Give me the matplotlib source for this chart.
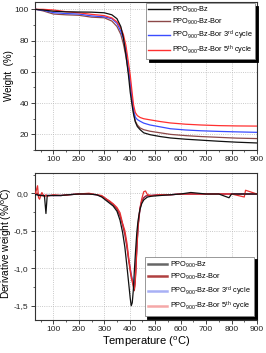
import matplotlib
matplotlib.use("Agg")
import matplotlib.pyplot as plt
from matplotlib.ticker import MultipleLocator

plt.rcParams['font.family'] = ['Liberation Sans', 'DejaVu Sans']
plt.rcParams['mathtext.fontset'] = 'custom'
plt.rcParams['mathtext.rm'] = 'Liberation Sans'
plt.rcParams['mathtext.it'] = 'Liberation Sans:italic'
plt.rcParams['mathtext.bf'] = 'Liberation Sans:bold'

# ---------------- data ----------------
series_labels = [r'PPO$_{900}$-Bz',
                 r'PPO$_{900}$-Bz-Bor',
                 r'PPO$_{900}$-Bz-Bor 3$^{\mathrm{rd}}$ cycle',
                 r'PPO$_{900}$-Bz-Bor 5$^{\mathrm{th}}$ cycle']

tga_temp = [30, 60, 100, 150, 200, 250, 300, 330, 350, 365, 375, 385, 395, 402,
            410, 415, 422, 430, 441, 455, 480, 520, 560, 620, 680, 750, 820, 900]
tga_bz = [100, 99.6, 98.8, 98.4, 98.3, 98.2, 97.8, 96.5, 94, 89, 82, 71, 58, 47,
          38, 33, 28, 25, 23, 21, 19.8, 18.6, 17.7, 16.9, 16.3, 15.6, 15.0, 14.5]
tga_bzbor = [100, 99.0, 97.0, 96.5, 96.2, 95.0, 94.6, 92.5, 89, 84, 78, 70, 60, 52,
             40, 34, 28.5, 26, 24.1, 23, 22, 21, 20, 19.2, 18.6, 18.1, 17.6, 17.3]
tga_c3 = [100, 99.4, 97.9, 97.3, 97.0, 95.8, 95.2, 94, 91, 86, 81.5, 74, 62, 54,
          42, 36, 31, 29.5, 28.4, 27.2, 26, 24.8, 23.6, 22.8, 22.3, 21.9, 21.6, 21.3]
tga_c5 = [100, 100, 99.6, 98.5, 97.8, 96.8, 96.0, 94.5, 92, 88, 84, 77, 66, 58,
          46, 39, 34, 32, 30.8, 30, 29.3, 28.2, 27.3, 26.5, 26, 25.6, 25.4, 25.3]

dtg_temp = [30, 38, 42, 46, 55, 65, 71, 76, 100, 130, 160, 200, 240, 270, 290, 305,
            320, 335, 350, 362, 372, 381, 389, 396, 402, 406, 410, 414, 418, 421,
            424, 428, 433, 440, 447, 455, 462, 470, 485, 520, 560, 600, 640, 700,
            750, 790, 800, 850, 855, 900]
dtg_bz = [-0.02, -0.02, -0.03, -0.03, -0.03, -0.03, -0.27, -0.03, -0.03, -0.03,
          -0.02, -0.01, -0.01, -0.02, -0.05, -0.09, -0.13, -0.17, -0.24, -0.36,
          -0.52, -0.72, -0.97, -1.20, -1.40, -1.50, -1.46, -1.30, -1.05, -0.88,
          -0.72, -0.52, -0.36, -0.22, -0.14, -0.09, -0.07, -0.05, -0.04, -0.03,
          -0.02, -0.01, 0.01, -0.01, -0.01, -0.06, -0.01, -0.01, -0.01, -0.01]
dtg_bzbor = [0.0, 0.0, -0.04, -0.02, -0.03, -0.04, -0.03, -0.03, -0.03, -0.03,
             -0.02, -0.01, -0.01, -0.02, -0.04, -0.07, -0.11, -0.15, -0.21, -0.30,
             -0.42, -0.55, -0.72, -0.90, -1.04, -1.12, -1.18, -1.24, -1.30, -1.22,
             -1.05, -0.75, -0.45, -0.22, -0.11, -0.06, -0.04, -0.03, -0.03, -0.02,
             -0.02, -0.01, -0.01, -0.01, -0.01, -0.01, -0.01, -0.01, -0.01, -0.01]
dtg_c3 = [-0.01, -0.02, -0.03, -0.02, -0.03, -0.03, -0.03, -0.03, -0.03, -0.03,
          -0.02, -0.01, -0.01, -0.02, -0.04, -0.07, -0.11, -0.15, -0.21, -0.30,
          -0.41, -0.54, -0.70, -0.88, -1.00, -1.08, -1.14, -1.19, -1.22, -1.17,
          -1.00, -0.72, -0.43, -0.21, -0.10, -0.06, -0.04, -0.03, -0.03, -0.02,
          -0.02, -0.01, -0.01, -0.01, -0.01, -0.01, -0.01, -0.01, -0.01, -0.01]
dtg_c5 = [0.0, 0.10, -0.06, -0.08, 0.01, -0.05, -0.02, -0.04, -0.02, -0.03,
          -0.02, -0.01, 0.0, -0.02, -0.03, -0.07, -0.10, -0.14, -0.19, -0.26,
          -0.40, -0.50, -0.66, -0.86, -1.00, -1.10, -1.16, -1.22, -1.27, -1.20,
          -1.02, -0.72, -0.42, -0.20, -0.08, 0.02, 0.03, -0.02, -0.03, -0.02,
          -0.02, -0.01, -0.01, -0.01, -0.01, -0.01, -0.01, -0.05, 0.04, -0.01]

x_ticks = [100, 200, 300, 400, 500, 600, 700, 800, 900]
tga_yticks = [20, 40, 60, 80, 100]
dtg_yticks = [0.0, -0.5, -1.0, -1.5]
dtg_yticklabels = ['0,0', '-0,5', '-1,0', '-1,5']

tga_colors = ['#111111', '#8c4848', '#3a4cff', '#ff3030']
dtg_colors = ['#111111', '#b02828', '#4a5cff', '#e83030']
dtg_leg_colors = ['#666666', '#b04040', '#a8b0f5', '#f5a8a8']

# ---------------- figure ----------------
W, H = 266, 353
fig = plt.figure(figsize=(W / 100, H / 100), dpi=100)
ax1 = fig.add_axes([35 / W, 1 - 150 / H, 222 / W, 148 / H])
ax2 = fig.add_axes([35 / W, 1 - 320 / H, 222 / W, 147 / H])

for ax in (ax1, ax2):
    ax.set_xlim(28, 900)
    ax.set_xticks(x_ticks)
    ax.xaxis.set_minor_locator(MultipleLocator(50))
    ax.grid(True, which='major', linestyle=':', color='#b8b8b8', linewidth=0.6)
    ax.tick_params(which='major', direction='out', length=3, width=0.6,
                   labelsize=6, pad=1.5, top=False, right=False, colors='#222222')
    ax.tick_params(which='minor', direction='out', length=1.6, width=0.5,
                   top=False, right=False, colors='#222222')
    for sp in ax.spines.values():
        sp.set_linewidth(0.8)
        sp.set_color('#333333')
    ax.set_axisbelow(True)

# ----- TGA -----
tga_data = [tga_bz, tga_bzbor, tga_c3, tga_c5]
zorders = [5, 2, 3, 4]
for vals, lab, c, z in zip(tga_data, series_labels, tga_colors, zorders):
    ax1.plot(tga_temp, vals, color=c, lw=0.9, label=lab, zorder=z)
ax1.set_ylim(10, 104.7)
ax1.set_yticks(tga_yticks)
ax1.yaxis.set_minor_locator(MultipleLocator(10))
ax1.set_ylabel('Weight  (%)', fontsize=7)
ax1.yaxis.set_label_coords(-0.095, 0.5)

leg1 = ax1.legend(loc='upper right', bbox_to_anchor=(0.991, 0.995),
                  fontsize=5.3, frameon=True, fancybox=False,
                  shadow={'color': 'black', 'alpha': 1.0},
                  edgecolor='#888888', framealpha=1, borderpad=0.3,
                  labelspacing=0.22, handlelength=2.9, handletextpad=0.3,
                  borderaxespad=0)
leg1.get_frame().set_linewidth(0.6)
for ln in leg1.get_lines():
    ln.set_linewidth(1.0)

# ----- DTG -----
dtg_data = [dtg_bz, dtg_bzbor, dtg_c3, dtg_c5]
dzorders = [5, 3, 2, 4]
for vals, lab, c, z in zip(dtg_data, series_labels, dtg_colors, dzorders):
    ax2.plot(dtg_temp, vals, color=c, lw=0.9, label=lab, zorder=z)
ax2.set_ylim(-1.69, 0.27)
ax2.set_yticks(dtg_yticks)
ax2.set_yticklabels(dtg_yticklabels)
ax2.yaxis.set_minor_locator(MultipleLocator(0.25))
ax2.set_ylabel(r'Derivative weight (%/$^{\mathrm{o}}$C)', fontsize=7.3)
ax2.yaxis.set_label_coords(-0.096, 0.52)
ax2.set_xlabel(r'Temperature ($^{\mathrm{o}}$C)', fontsize=8, labelpad=1)

leg2 = ax2.legend(loc='lower right', bbox_to_anchor=(0.986, 0.027),
                  fontsize=5.3, frameon=True, fancybox=False,
                  shadow={'color': 'black', 'alpha': 1.0},
                  edgecolor='#888888', framealpha=1, borderpad=0.4,
                  labelspacing=0.3, handlelength=2.6, handletextpad=0.45,
                  borderaxespad=0)
leg2.get_frame().set_linewidth(0.6)
for ln, c in zip(leg2.get_lines(), dtg_leg_colors):
    ln.set_linewidth(1.8)
    ln.set_color(c)

fig.savefig('out.png', dpi=100)
